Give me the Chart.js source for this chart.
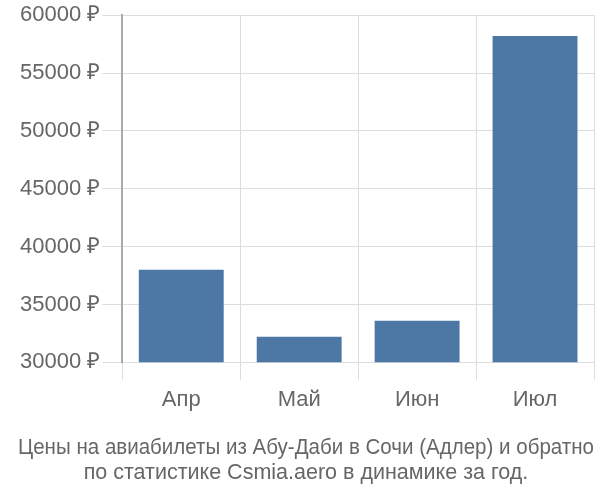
<!DOCTYPE html>
<html><head><meta charset="utf-8">
<script src="https://cdn.jsdelivr.net/npm/chart.js@4/dist/chart.umd.min.js"></script>
<style>html,body{margin:0;padding:0;background:#fff}#w{width:600px;height:500px}</style>
</head><body><div id="w"><canvas id="c"></canvas></div>
<script>
const categories = ["Апр", "Май", "Июн", "Июл"];
const prices = [38000, 32200, 33600, 58200];
const yTicks = [30000, 35000, 40000, 45000, 50000, 55000, 60000];
const titleLines = ["Цены на авиабилеты из Абу-Даби в Сочи (Адлер) и обратно", "по статистике Csmia.aero в динамике за год."];

Chart.defaults.font.family = "'Liberation Sans', Arial, sans-serif";
Chart.defaults.color = "#666";
new Chart(document.getElementById('c'), {
  type: 'bar',
  data: { labels: categories, datasets: [{ data: prices, backgroundColor: '#4d78a6', categoryPercentage: 1, barPercentage: 0.72 }] },
  options: {
    responsive: true, maintainAspectRatio: false, animation: false,
    layout: { padding: { top: 2, right: 6, left: 18, bottom: 0 } },
    plugins: {
      legend: { display: false }, tooltip: { enabled: false },
      title: { display: true, position: 'bottom', text: titleLines, font: { size: 21.5, weight: 'normal', lineHeight: 1.17 }, color: '#666', padding: { top: 17, bottom: 14 } }
    },
    scales: {
      x: {
        grid: { color: '#ddd', tickLength: 18, offset: true },
        border: { color: '#ddd' },
        ticks: { font: { size: 22 }, color: '#666', padding: 6 }
      },
      y: {
        min: 30000, max: 60000,
        afterBuildTicks: s => { s.ticks = yTicks.map(v => ({ value: v })); },
        grid: { color: '#ddd', tickLength: 20 },
        border: { color: '#aaa', width: 2 },
        ticks: { font: { size: 22 }, color: '#666', padding: 2, callback: v => v + ' ₽' }
      }
    }
  }
});
</script></body></html>
